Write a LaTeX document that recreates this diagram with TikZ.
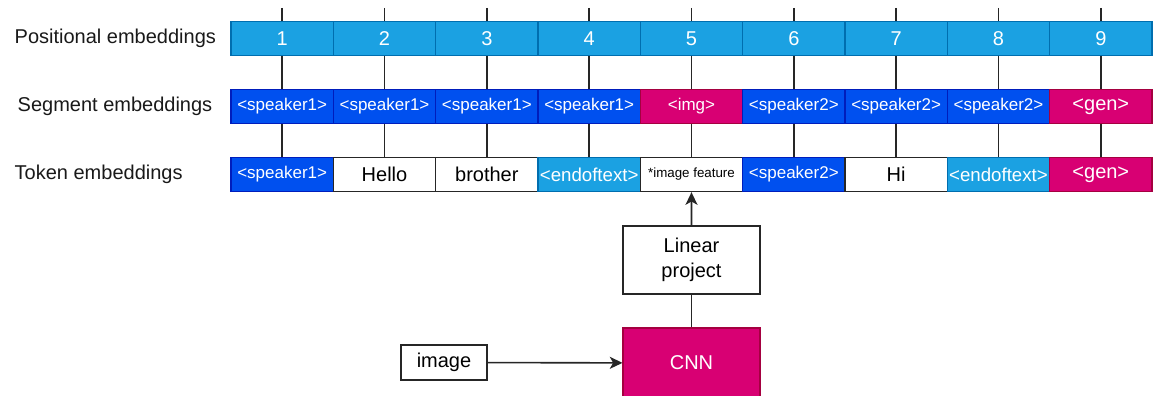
\documentclass[tikz,border=0pt]{standalone}
\usepackage{fontspec}
\setmainfont{Liberation Sans}
\usetikzlibrary{positioning, arrows.meta, backgrounds}

\definecolor{posblue}{HTML}{1BA1E2}
\definecolor{posedge}{HTML}{006EAF}
\definecolor{segblue}{HTML}{0050EF}
\definecolor{segedge}{HTML}{001DBC}
\definecolor{magent}{HTML}{D80073}
\definecolor{magedge}{HTML}{A50040}

\tikzset{
  bigtxt/.style={font=\fontsize{15pt}{19pt}\selectfont},
  smalltxt/.style={font=\fontsize{12.75pt}{15pt}\selectfont},
  midtxt/.style={font=\fontsize{14pt}{16pt}\selectfont},
  tinytxt/.style={font=\fontsize{10pt}{12pt}\selectfont},
  emb/.style={draw, rectangle, minimum width=76.75pt, minimum height=25.5pt, inner sep=0pt, line width=0.8pt, bigtxt},
  posbox/.style={emb, fill=posblue, draw=posedge, text=white},
  bluebox/.style={emb, fill=segblue, draw=segedge, text=white, smalltxt},
  lbluebox/.style={emb, fill=posblue, draw=posedge, text=white, midtxt},
  pinkbox/.style={emb, fill=magent, draw=magedge, text=white},
  imgtag/.style={pinkbox, smalltxt},
  whitebox/.style={emb, fill=white, draw=black!85, line width=1pt},
  featbox/.style={whitebox, tinytxt},
  rowlabel/.style={anchor=west, bigtxt, text=black!90},
  wire/.style={line width=1.2pt, draw=black!85},
  arr/.style={wire, -{Stealth[length=9.5pt, width=9pt, inset=2.5pt]}}
}

\begin{document}
\begin{tikzpicture}[x=0.75pt, y=-0.75pt]

  \useasboundingbox (0,0) rectangle (1156,396);

  % row names
  \node [rowlabel] (lpos) at (10, 38.5) {Positional embeddings};
  \node [rowlabel] (lseg) at (13, 106.5) {Segment embeddings};
  \node [rowlabel] (ltok) at (10, 174.5) {Token embeddings};

  % --- positional row ---
  \foreach \i in {1,...,9}
    \node [posbox] (p\i) at ({231+102.33*(\i-0.5)}, 38.5) {\i};

  % --- segment row ---
  \foreach \i/\sty/\txt in {1/bluebox/<speaker1>, 2/bluebox/<speaker1>,
      3/bluebox/<speaker1>, 4/bluebox/<speaker1>, 5/imgtag/<img>,
      6/bluebox/<speaker2>, 7/bluebox/<speaker2>, 8/bluebox/<speaker2>,
      9/pinkbox/<gen>}
    \node [\sty] (s\i) at ({231+102.33*(\i-0.5)}, 106.5) {\txt};

  % --- token row ---
  \foreach \i/\sty/\txt in {1/bluebox/<speaker1>, 2/whitebox/Hello,
      3/whitebox/brother, 4/lbluebox/<endoftext>, 5/featbox/*image feature,
      6/bluebox/<speaker2>, 7/whitebox/Hi, 8/lbluebox/<endoftext>,
      9/pinkbox/<gen>}
    \node [\sty] (t\i) at ({231+102.33*(\i-0.5)}, 174.5) {\txt};

  % vertical links behind the rows
  \begin{scope}[on background layer]
    \foreach \i in {1,...,9} {
      \coordinate (top\i) at ([yshift=9.75pt]p\i.north);
      \draw [wire] (top\i) -- (t\i.north);
    }
  \end{scope}

  % --- image branch ---
  \node [whitebox, minimum width=102.75pt, minimum height=51pt, align=center] (lin) at (691.5, 260) {Linear\\project};
  \node [pinkbox, minimum width=102.75pt, minimum height=52.5pt] (cnn) at (691.5, 363) {CNN};
  \node [whitebox, minimum width=64.5pt, minimum height=26.25pt] (img) at (444, 362.5) {image};

  \draw [arr] (img) -- (cnn);
  \draw [wire] (cnn) -- (lin);
  \draw [arr] (lin) -- (t5);

\end{tikzpicture}
\end{document}
